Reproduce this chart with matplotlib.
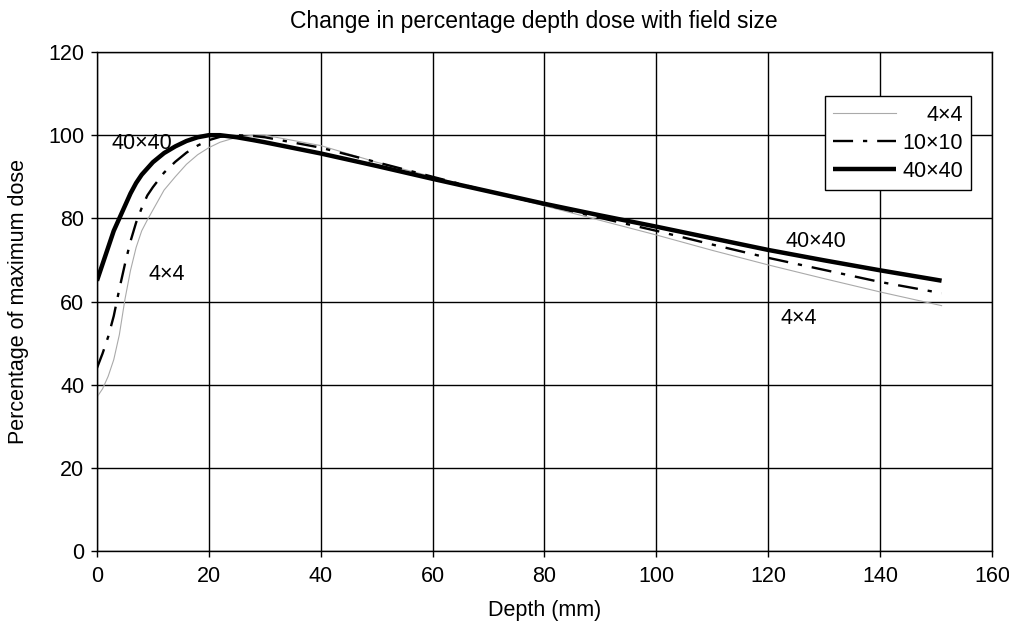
import numpy as np
import matplotlib.pyplot as plt

plt.rcParams['font.family'] = ['Liberation Sans', 'DejaVu Sans']

depth = [0, 1, 2, 3, 4, 5, 6, 7, 8, 9, 10, 12, 14, 16, 18, 20, 22, 25, 28, 30,
         40, 50, 60, 70, 80, 90, 100, 110, 120, 130, 140, 151]
pdd_4 = [37, 39, 42, 46, 52, 60.5, 67.5, 73, 77, 79.6, 82, 86.8, 90, 93, 95.3, 97,
         98.3, 99.5, 100, 100, 97.5, 93.5, 90, 86.5, 83, 79.5, 76, 72.3, 68.8, 65.5, 62.3, 59]
pdd_10 = [44, 47.5, 51.5, 56.5, 63, 69, 74.5, 79, 82.5, 85.5, 87.5, 91, 93.6, 95.8, 97.5, 98.8,
          99.6, 100, 99.8, 99.5, 97, 93.5, 90, 86.5, 83.3, 80.1, 77, 73.7, 70.5, 67.6, 64.7, 62]
pdd_40 = [65, 69, 73, 77, 80, 83, 86, 88.5, 90.5, 92, 93.5, 95.7, 97.3, 98.6, 99.5, 100,
          100, 99.5, 98.8, 98.3, 95.6, 92.6, 89.5, 86.5, 83.5, 80.7, 78, 75.2, 72.4, 69.9, 67.5, 65]

labels = ['4\u00d74', '10\u00d710', '40\u00d740']

fs = 15.5
fig = plt.figure(figsize=(10.09, 6.23), dpi=100)
ax = fig.add_axes([0.0961, 0.1156, 0.887, 0.8009])

ax.plot(depth, pdd_4, color='#aaaaaa', lw=0.8, label=labels[0])
ax.plot(depth, pdd_10, color='black', lw=1.7, dashes=(8.5, 4.2, 1.8, 4.2), label=labels[1])
ax.plot(depth, pdd_40, color='black', lw=3.2, label=labels[2], solid_capstyle='butt')

ax.set_xlim(0, 160)
ax.set_ylim(0, 120)
ax.set_xticks(np.arange(0, 161, 20))
ax.set_yticks(np.arange(0, 121, 20))
ax.grid(True, color='black', lw=1.0)
ax.set_axisbelow(True)
for s in ax.spines.values():
    s.set_linewidth(1.0)
ax.tick_params(labelsize=fs, length=4, width=1.0, direction='out')
ax.tick_params(axis='x', pad=7)
ax.tick_params(axis='y', pad=5)

fig.text(0.529, 0.965, 'Change in percentage depth dose with field size',
         fontsize=16.5, ha='center', va='center')
ax.set_xlabel('Depth (mm)', fontsize=fs, labelpad=9)
ax.set_ylabel('Percentage of maximum dose', fontsize=fs, labelpad=14)

ax.text(8, 98, '40\u00d740', fontsize=fs, ha='center', va='center')
ax.text(12.5, 66.5, '4\u00d74', fontsize=fs, ha='center', va='center')
ax.text(128.5, 74.5, '40\u00d740', fontsize=fs, ha='center', va='center')
ax.text(125.5, 56, '4\u00d74', fontsize=fs, ha='center', va='center')

leg = ax.legend(loc='upper right', bbox_to_anchor=(0.977, 0.912), fontsize=fs,
                frameon=True, fancybox=False, edgecolor='black', framealpha=1,
                handlelength=2.9, handletextpad=0.3, borderpad=0.4, labelspacing=0.33,
                borderaxespad=0)
leg.get_frame().set_linewidth(1.0)
texts = leg.get_texts()
fig.canvas.draw()
widths = [t.get_window_extent().width for t in texts]
wmax = max(widths)
for t, w in zip(texts, widths):
    t.set_position((wmax - w, 0))

fig.savefig('out.png', dpi=100)
